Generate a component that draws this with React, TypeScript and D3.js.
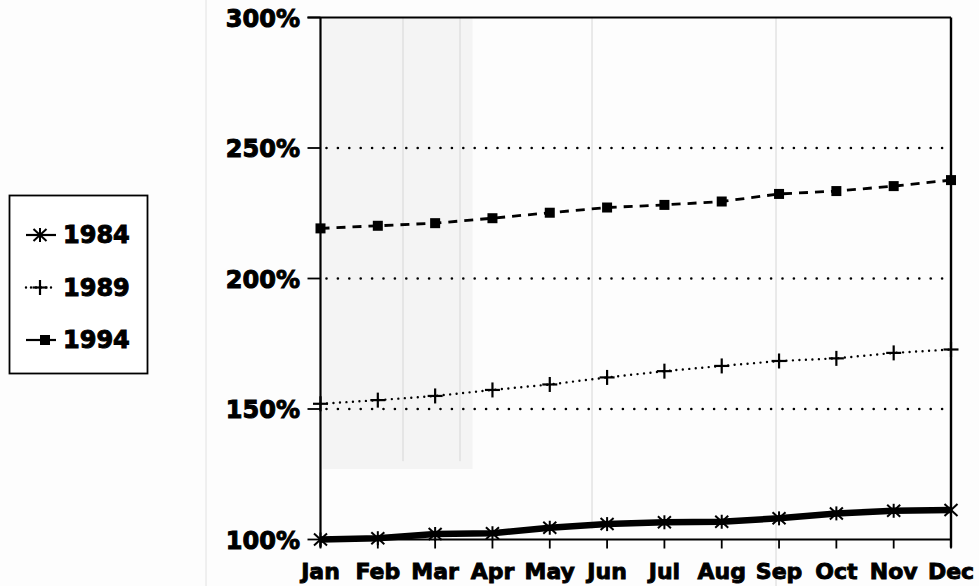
import React from "react";
import * as d3 from "d3";

const months = ["Jan","Feb","Mar","Apr","May","Jun","Jul","Aug","Sep","Oct","Nov","Dec"];
const series1984 = [100, 100.5, 102.1, 102.4, 104.5, 105.9, 106.6, 106.8, 108.1, 110, 111, 111.3];
const series1989 = [152, 153.4, 155, 157.3, 159.4, 162.1, 164.5, 166.5, 168.4, 169.4, 171.5, 172.8];
const series1994 = [219.2, 220.2, 221.2, 223.1, 225.2, 227.2, 228.2, 229.5, 232.4, 233.5, 235.4, 237.7];
const yTicks = [100, 150, 200, 250, 300];
const gridValues = [150, 200, 250];
const legendLabels = ["1984", "1989", "1994"];

const W = 979, H = 586;
const FONT = "'DejaVu Sans', sans-serif";

function Marker({ kind, x, y }: { kind: string; x: number; y: number }) {
  if (kind === "star") {
    const r = 7, dx = 6.5, dy = 6;
    return (
      <g stroke="#000" strokeWidth={2} fill="none">
        <line x1={x} y1={y - r} x2={x} y2={y + r} />
        <line x1={x - dx} y1={y - dy} x2={x + dx} y2={y + dy} />
        <line x1={x - dx} y1={y + dy} x2={x + dx} y2={y - dy} />
      </g>
    );
  }
  if (kind === "plus") {
    const r = 7.5;
    return (
      <g stroke="#000" strokeWidth={2.2} fill="none">
        <line x1={x - r} y1={y} x2={x + r} y2={y} />
        <line x1={x} y1={y - r} x2={x} y2={y + r} />
      </g>
    );
  }
  return <rect x={x - 5} y={y - 5} width={10} height={10} fill="#000" />;
}

export default function App() {
  const x = d3.scalePoint<string>().domain(months).range([320.5, 951]);
  const y = d3.scaleLinear().domain([100, 300]).range([539.5, 17.5]);
  const line = d3.line<[string, number]>().x((d) => x(d[0]) as number).y((d) => y(d[1]));

  const mk = (vals: number[]) => months.map((m, i) => [m, vals[i]] as [string, number]);
  const left = x("Jan") as number;
  const right = x("Dec") as number;

  const series = [
    { vals: series1984, kind: "star", width: 6.5, dash: "" },
    { vals: series1989, kind: "plus", width: 2.4, dash: "0 6.5" },
    { vals: series1994, kind: "square", width: 2.8, dash: "9 7" },
  ];

  return (
    <svg width={W} height={H} style={{ position: "absolute", left: 0, top: 0, background: "#fff" }}>
      <rect width={W} height={H} fill="#fdfdfd" />
      {/* faint scan shading */}
      <rect x={left + 2} y={y(300)} width={150} height={y(127) - y(300)} fill="#f4f4f4" />
      <line x1={206} y1={0} x2={206} y2={H} stroke="#e2e2e2" strokeWidth={1} />
      <line x1={403} y1={y(300)} x2={403} y2={y(130)} stroke="#d6d6d6" strokeWidth={1} />
      <line x1={460} y1={y(300)} x2={460} y2={y(130)} stroke="#d6d6d6" strokeWidth={1} />
      <line x1={592} y1={y(300)} x2={592} y2={y(104)} stroke="#d6d6d6" strokeWidth={1} />
      <line x1={776} y1={y(300)} x2={776} y2={H} stroke="#d6d6d6" strokeWidth={1} />

      {/* gridlines */}
      {gridValues.map((v) => (
        <line key={v} x1={left + 6} x2={right - 2} y1={y(v)} y2={y(v)} stroke="#000"
          strokeWidth={2.6} strokeDasharray="0 11.4" strokeLinecap="round" />
      ))}

      {/* frame */}
      <line x1={left - 13} x2={right} y1={y(300)} y2={y(300)} stroke="#000" strokeWidth={1.8} />
      <line x1={right} x2={right} y1={y(300)} y2={y(100) + 8} stroke="#000" strokeWidth={2.4} />
      <line x1={left} x2={left} y1={y(300)} y2={y(100) + 8} stroke="#000" strokeWidth={2.2} />
      <line x1={left} x2={right} y1={y(100)} y2={y(100)} stroke="#000" strokeWidth={2} />

      {/* y ticks & labels */}
      {yTicks.map((v) => (
        <g key={v}>
          <line x1={left - 13} x2={left} y1={y(v)} y2={y(v)} stroke="#000" strokeWidth={1.8} />
          <text x={300} y={y(v) + 2} textAnchor="end" dominantBaseline="middle"
            fontFamily={FONT} fontWeight="bold" fontSize={24} fill="#000" stroke="#000" strokeWidth={1}>
            {v}%
          </text>
        </g>
      ))}

      {/* x ticks & labels */}
      {months.map((m) => (
        <g key={m}>
          <line x1={x(m)} x2={x(m)} y1={y(100)} y2={y(100) + 9} stroke="#000" strokeWidth={1.8} />
          <text x={x(m)} y={579} textAnchor="middle" fontFamily={FONT} fontWeight="bold"
            fontSize={22} fill="#000" stroke="#000" strokeWidth={0.9}>
            {m}
          </text>
        </g>
      ))}

      {/* series */}
      {series.map((s, i) => (
        <g key={i}>
          <path d={line(mk(s.vals)) || ""} fill="none" stroke="#000" strokeWidth={s.width}
            strokeDasharray={s.dash || undefined} strokeLinecap={s.kind === "plus" ? "round" : "butt"} />
          {mk(s.vals).map((d) => (
            <Marker key={d[0]} kind={s.kind} x={x(d[0]) as number} y={y(d[1])} />
          ))}
        </g>
      ))}

      {/* legend */}
      <rect x={9.5} y={195.5} width={138} height={178} fill="#fff" stroke="#000" strokeWidth={1.8} />
      {legendLabels.map((lab, i) => {
        const ly = 235 + i * 52.5;
        const s = series[i];
        return (
          <g key={lab}>
            <line x1={26} x2={56} y1={ly} y2={ly} stroke="#000" strokeWidth={s.kind === "plus" ? 2.4 : 2.2}
              strokeDasharray={s.kind === "plus" ? "0 5" : undefined}
              strokeLinecap={s.kind === "plus" ? "round" : "butt"} />
            <Marker kind={s.kind} x={s.kind === "square" ? 45 : 40} y={ly} />
            <text x={63} y={ly + 1} dominantBaseline="middle" fontFamily={FONT} fontWeight="bold"
              fontSize={24} fill="#000" stroke="#000" strokeWidth={1}>
              {lab}
            </text>
          </g>
        );
      })}
    </svg>
  );
}
